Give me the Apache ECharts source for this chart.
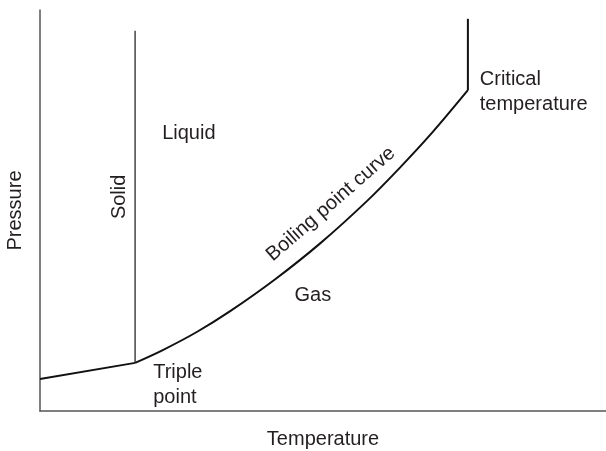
<!DOCTYPE html>
<html>
<head>
<meta charset="utf-8">
<script src="https://cdn.jsdelivr.net/npm/echarts@6/dist/echarts.min.js"></script>
<style>
  html, body { margin: 0; padding: 0; background: #fff; }
  #main { width: 606px; height: 451px; }
</style>
</head>
<body>
<div id="main"></div>
<script>
// phase diagram, arbitrary units 0-100 on both axes
var tripleT = [0, 16.8];
var tripleP = [8.0, 12.0];

var solidT = [16.8, 16.8];
var solidP = [12.0, 94.8];

var boilT = [16.8, 21.7, 27.7, 33.6, 41.5, 49.5, 57.8, 63.6, 69.4, 75.6];
var boilP = [12.0, 15.2, 19.7, 24.9, 32.8, 41.8, 52.4, 60.7, 69.6, 80.0];

var criticalT = [75.6, 75.6];
var criticalP = [80.0, 97.8];

// region labels: text, T, P, rotate, align
var labelText = ["Liquid", "Gas", "Solid", "Boiling point curve", "Triple\npoint", "Critical\ntemperature"];
var labelT = [26.3, 48.2, 14.1, 51.4, 20.0, 77.7];
var labelP = [69.1, 28.7, 53.4, 51.6, 6.5, 79.5];
var labelRot = [0, 0, 90, 41, 0, 0];
var labelAlign = ["center", "center", "center", "center", "left", "left"];

function pairs(xs, ys) {
  var out = [];
  for (var i = 0; i < xs.length; i++) out.push([xs[i], ys[i]]);
  return out;
}

var font = "'Liberation Sans', Arial, sans-serif";
var ink = "#231f20";

var labelData = [];
for (var i = 0; i < labelText.length; i++) {
  labelData.push({
    value: [labelT[i], labelP[i]],
    name: labelText[i],
    label: { rotate: labelRot[i], align: labelAlign[i] }
  });
}

var myChart = echarts.init(document.getElementById("main"));
var option = {
  animation: false,
  grid: { left: 40, right: 0, top: 10, bottom: 40, containLabel: false, outerBoundsMode: "none" },
  xAxis: {
    type: "value", min: 0, max: 100,
    name: "Temperature", nameLocation: "middle", nameGap: 18,
    nameTextStyle: { color: ink, fontSize: 20, fontFamily: font },
    axisLine: { show: true, onZero: false, lineStyle: { color: "#555", width: 1.5 } },
    axisTick: { show: false }, axisLabel: { show: false }, splitLine: { show: false }
  },
  yAxis: {
    type: "value", min: 0, max: 100,
    name: "Pressure", nameLocation: "middle", nameGap: 15, nameRotate: 90,
    nameTextStyle: { color: ink, fontSize: 20, fontFamily: font },
    axisLine: { show: true, onZero: false, lineStyle: { color: "#555", width: 1.5 } },
    axisTick: { show: false }, axisLabel: { show: false }, splitLine: { show: false }
  },
  series: [
    {
      type: "line", data: pairs(tripleT, tripleP), symbol: "none",
      lineStyle: { color: "#111", width: 2 }
    },
    {
      type: "line", data: pairs(solidT, solidP), symbol: "none",
      lineStyle: { color: "#444", width: 1.5 }
    },
    {
      type: "line", data: pairs(boilT, boilP), symbol: "none", smooth: 0.3,
      lineStyle: { color: "#111", width: 2 }
    },
    {
      type: "line", data: pairs(criticalT, criticalP), symbol: "none",
      lineStyle: { color: "#111", width: 2 }
    },
    {
      type: "scatter", data: labelData, symbolSize: 0, silent: true,
      itemStyle: { opacity: 1 },
      label: {
        show: true, position: "inside", formatter: "{b}", opacity: 1,
        color: ink, fontSize: 20, fontFamily: font, lineHeight: 25,
        verticalAlign: "middle"
      }
    }
  ]
};
option && myChart.setOption(option);
</script>
</body>
</html>
